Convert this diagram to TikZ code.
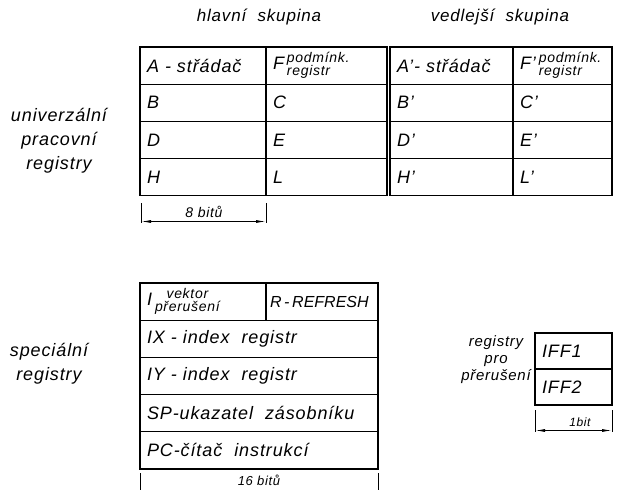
\documentclass[tikz,border=0pt]{standalone}
\usepackage{fontspec}
\setmainfont{Liberation Sans}[LetterSpace=5]
\usetikzlibrary{
	arrows.meta,
	positioning
}

\begin{document}
\begin{tikzpicture}[x=1pt, y=-1pt,
					cell/.style={
					rectangle, draw, line width=1.2pt, outer sep=0pt,
					anchor=north west, inner xsep=7pt, inner ysep=0pt,
					minimum height=37.2pt, text width=#1, align=left,
					font=\fontsize{18}{20}\selectfont\itshape
				},
				small/.style={
					font=\fontsize{14}{14}\selectfont\itshape
				},
				label/.style={
					align=center, font=\fontsize{18}{24}\selectfont\itshape
				},
				dim/.style={line width=0.9pt},
				dimarrow/.style={dim, {Latex[length=10pt,width=3pt]}-{Latex[length=10pt,width=3pt]}},
				]
				\useasboundingbox (0,0) rectangle (640,490);
				
				%headings
				\node[label, font=\fontsize{17}{20}\selectfont\itshape] (main) at (259,17) {hlavní\ \ skupina};
				\node[label, font=\fontsize{17}{20}\selectfont\itshape] (alt) at (500,17) {vedlejší\ \ skupina};
				\node[label] (univ) at (59,141) {univerzální\\pracovní\\registry};
				
				%main set
				\node[cell=112pt] (A) at (140,47) {A - střádač};
				\node[cell=107pt, right=0pt of A] (F) {F\,{\fontsize{14}{11}\selectfont\begin{tabular}[c]{@{}l@{}}podmínk.\\registr\end{tabular}}};
				\node[cell=112pt, below=0pt of A] (B) {B};
				\node[cell=107pt, right=0pt of B] (C) {C};
				\node[cell=112pt, below=0pt of B] (D) {D};
				\node[cell=107pt, right=0pt of D] (E) {E};
				\node[cell=112pt, below=0pt of D] (H) {H};
				\node[cell=107pt, right=0pt of H] (L) {L};
				
				%alternate set
				\node[cell=109pt] (A2) at (390,47) {A'- střádač};
				\node[cell=85pt, right=0pt of A2] (F2) {F'\,{\fontsize{14}{11}\selectfont\begin{tabular}[c]{@{}l@{}}podmínk.\\registr\end{tabular}}};
				\node[cell=109pt, below=0pt of A2] (B2) {B'};
				\node[cell=85pt, right=0pt of B2] (C2) {C'};
				\node[cell=109pt, below=0pt of B2] (D2) {D'};
				\node[cell=85pt, right=0pt of D2] (E2) {E'};
				\node[cell=109pt, below=0pt of D2] (H2) {H'};
				\node[cell=85pt, right=0pt of H2] (L2) {L'};
				
				%8 bit
				\coordinate (w8a) at (141,203);
				\coordinate (w8b) at (141,223);
				\coordinate (w8c) at (266,203);
				\coordinate (w8d) at (266,223);
				\draw[dim] (w8a) -- (w8b);
				\draw[dim] (w8c) -- (w8d);
				\draw[dimarrow] ([yshift=1.5pt]w8b) -- ([yshift=1.5pt]w8d);
				\node[small] (w8) at (204,212) {8 bitů};
				
				%special registers
				\node[label] (spec) at (49,364) {speciální\\registry};
				\node[cell=112pt] (Ireg) at (140,283) {I\,{\fontsize{14}{11}\selectfont\begin{tabular}[c]{@{}c@{}}vektor\\přerušení\end{tabular}}};
				\node[cell=104pt, inner xsep=4pt, right=0pt of Ireg, font=\fontsize{16}{18}\selectfont\itshape\addfontfeature{LetterSpace=0}] (Rreg) {\mbox{R\,-\,REFRESH}};
				\node[cell=224pt, below=0pt of Ireg.south west, anchor=north west] (IX) {IX - index\ \ registr};
				\node[cell=224pt, below=0pt of IX] (IY) {IY - index\ \ registr};
				\node[cell=224pt, below=0pt of IY] (SP) {SP-ukazatel\ \ zásobníku};
				\node[cell=224pt, below=0pt of SP] (PC) {PC-čítač\ \ instrukcí};
				
				%16 bit
				\coordinate (w16a) at (140,473);
				\coordinate (w16b) at (140,492);
				\coordinate (w16c) at (378,473);
				\coordinate (w16d) at (378,492);
				\draw[dim] (w16a) -- (w16b);
				\draw[dim] (w16c) -- (w16d);
				\node[small, font=\fontsize{13}{13}\selectfont\itshape] (w16) at (259,480) {16 bitů};
				
				%interrupt
				\node[label, font=\fontsize{15}{17}\selectfont\itshape] (intr) at (496,360) {registry\\pro\\přerušení};
				\node[cell=63pt, minimum height=36pt] (iff1) at (535,333) {IFF1};
				\node[cell=63pt, minimum height=36pt, below=0pt of iff1] (iff2) {IFF2};
				
				%1 bit
				\coordinate (w1a) at (535,410);
				\coordinate (w1b) at (535,432);
				\coordinate (w1c) at (612,410);
				\coordinate (w1d) at (612,432);
				\draw[dim] (w1a) -- (w1b);
				\draw[dim] (w1c) -- (w1d);
				\draw[dimarrow] ([yshift=1.5pt]w1b) -- ([yshift=1.5pt]w1d);
				\node[small, font=\fontsize{12}{12}\selectfont\itshape] (w1) at (580,422) {1bit};
			\end{tikzpicture}
\end{document}
